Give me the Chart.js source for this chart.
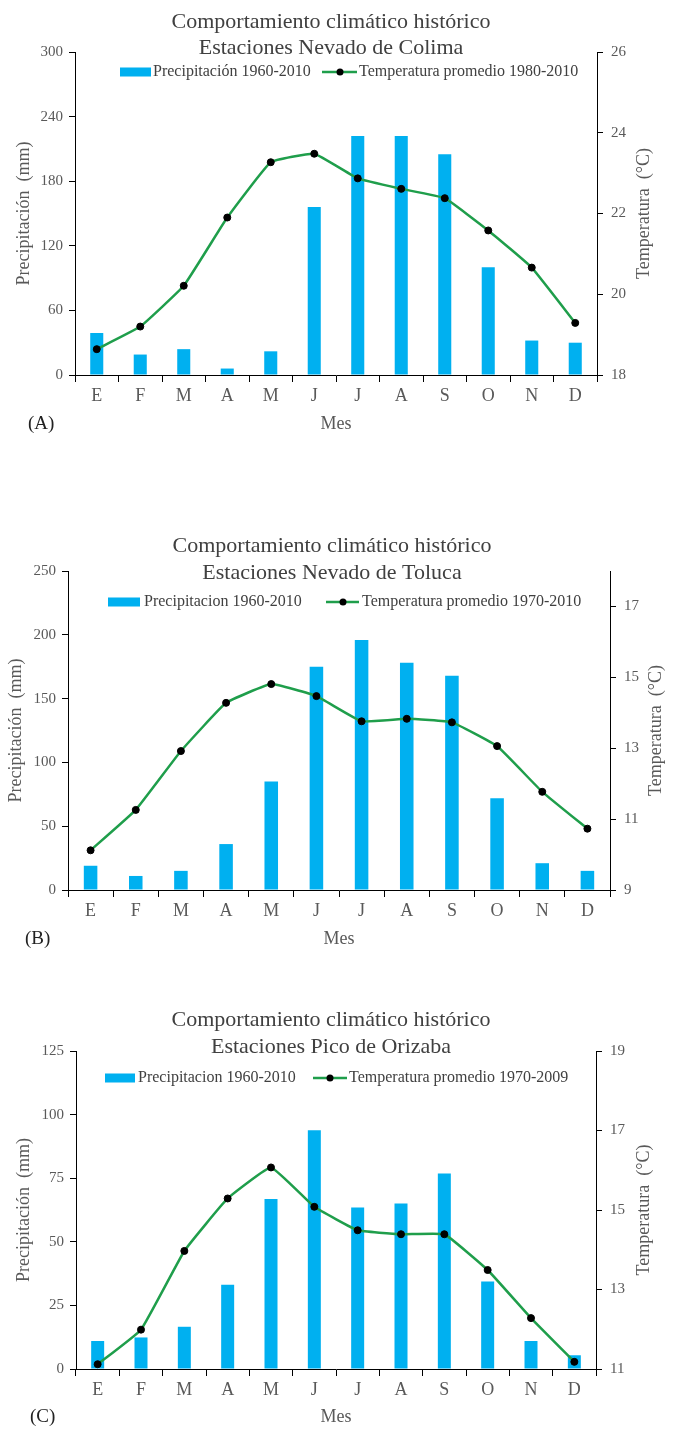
<!DOCTYPE html>
<html lang="es">
<head>
<meta charset="utf-8">
<title>Comportamiento climático histórico</title>
<script src="https://cdn.jsdelivr.net/npm/chart.js@4.4.1/dist/chart.umd.min.js"></script>
<style>
  body{margin:0;background:#fff;width:674px;height:1433px;position:relative;overflow:hidden;}
  canvas{position:absolute;left:0;}
</style>
</head>
<body>
<canvas id="chartA" width="674" height="460" style="top:0px"></canvas>
<canvas id="chartB" width="674" height="500" style="top:460px"></canvas>
<canvas id="chartC" width="674" height="473" style="top:960px"></canvas>
<script>
// ---------------- DATA ----------------
const meses = ['E','F','M','A','M','J','J','A','S','O','N','D'];

// (A) Nevado de Colima
const precipColima = [39,19,24,6,22,156,222,222,205,100,32,30];
const tempColima   = [18.64,19.20,20.21,21.90,23.27,23.48,22.87,22.61,22.38,21.58,20.66,19.29];
const precipTicksColima = [0,60,120,180,240,300];
const tempTicksColima   = [18,20,22,24,26];

// (B) Nevado de Toluca
const precipToluca = [19,11,15,36,85,175,196,178,168,72,21,15];
const tempToluca   = [10.12,11.26,12.92,14.28,14.81,14.47,13.76,13.83,13.73,13.06,11.77,10.73];
const precipTicksToluca = [0,50,100,150,200,250];
const tempTicksToluca   = [9,11,13,15,17];
const tempMaxToluca = 18;

// (C) Pico de Orizaba
const precipOrizaba = [11,12.4,16.6,33.1,66.8,93.8,63.5,65.1,76.8,34.4,11,5.4];
const tempOrizaba   = [11.12,11.99,13.97,15.29,16.07,15.08,14.49,14.39,14.39,13.49,12.28,11.18];
const precipTicksOrizaba = [0,25,50,75,100,125];
const tempTicksOrizaba   = [11,13,15,17,19];

// ---------------- STYLE ----------------
const FONT = "'Liberation Serif','Times New Roman',serif";
const BLUE = '#00b0f0';
const GREEN = '#1f9e4b';
const GREY = '#595959';
const DARK = '#404040';

// titles, legend, axis titles and panel letter
const decoPlugin = {
  id:'deco',
  afterDraw(chart, args, o){
    const {ctx, chartArea:ca} = chart;
    const bar = chart.data.datasets[1], line = chart.data.datasets[0];
    const midY = (ca.top+ca.bottom)/2;
    ctx.save();
    ctx.textBaseline='middle';

    ctx.fillStyle=DARK; ctx.textAlign='center';
    ctx.font='22px '+FONT;
    ctx.fillText('Comportamiento climático histórico', o.titleX, o.titleY[0]);
    ctx.fillText(o.subtitle, o.titleX, o.titleY[1]);

    // legend
    ctx.font='16px '+FONT; ctx.textAlign='left';
    ctx.fillStyle=BLUE;
    ctx.fillRect(o.box[0], o.legY-4.5, o.box[1]-o.box[0], 9);
    ctx.fillStyle=DARK;
    ctx.fillText(bar.label, o.text1X, o.legY);
    ctx.strokeStyle=GREEN; ctx.lineWidth=2.5;
    ctx.beginPath(); ctx.moveTo(o.seg[0], o.legY); ctx.lineTo(o.seg[1], o.legY); ctx.stroke();
    ctx.fillStyle='#000';
    ctx.beginPath(); ctx.arc(o.seg[2], o.legY, 3.5, 0, 2*Math.PI); ctx.fill();
    ctx.fillStyle=DARK;
    ctx.fillText(line.label, o.text2X, o.legY);

    // axis titles (both read bottom to top)
    ctx.fillStyle=GREY; ctx.textAlign='center'; ctx.font='18px '+FONT;
    [[o.leftTitleX,'Precipitación  (mm)'],[o.rightTitleX,'Temperatura  (°C)']].forEach(([x,t])=>{
      ctx.save(); ctx.translate(x, midY); ctx.rotate(-Math.PI/2);
      ctx.fillText(t, 0, 0); ctx.restore();
    });

    ctx.font='18px '+FONT;
    ctx.fillText('Mes', (ca.left+ca.right)/2, o.mesY);

    ctx.fillStyle='#222'; ctx.textAlign='left'; ctx.font='19px '+FONT;
    ctx.fillText(o.letter, o.letterX, o.mesY);
    ctx.restore();
  }
};

function makeChart(id, p){
  const H = document.getElementById(id).height;
  const fixTicks = list => s => { s.ticks = list.map(v=>({value:v})); };
  return new Chart(document.getElementById(id),{
    type:'bar',
    data:{
      labels:meses,
      datasets:[
        {type:'line', label:p.tempLabel, data:p.temp, yAxisID:'y1', order:0,
         borderColor:GREEN, borderWidth:2.5, tension:0.1,
         pointRadius:3.5, pointBackgroundColor:'#000', pointBorderColor:'#000', pointBorderWidth:1},
        {type:'bar', label:p.precipLabel, data:p.precip, yAxisID:'y', order:1,
         backgroundColor:BLUE, categoryPercentage:1, barPercentage:0.3}
      ]
    },
    options:{
      responsive:false, animation:false,
      layout:{padding:{top:p.top, left:0, right:0, bottom:0}},
      plugins:{legend:{display:false}, tooltip:{enabled:false}, title:{display:false}, deco:p.deco},
      scales:{
        x:{offset:true,
           grid:{offset:true, drawOnChartArea:false, tickLength:7, color:'#000'},
           border:{color:'#000'},
           ticks:{color:GREY, font:{family:FONT, size:18}, padding:3, maxRotation:0, autoSkip:false},
           afterFit:s=>{ s.height = H - p.bottom; }},
        y:{position:'left', min:0, max:p.precipTicks[p.precipTicks.length-1],
           grid:{drawOnChartArea:false, tickLength:6, color:'#000'},
           border:{color:'#000'},
           ticks:{color:GREY, font:{family:FONT, size:15}, padding:6},
           afterBuildTicks:fixTicks(p.precipTicks),
           afterFit:s=>{ s.width = p.left; }},
        y1:{position:'right', min:p.tempTicks[0], max:p.tempMax,
           grid:{drawOnChartArea:false, tickLength:6, color:'#000'},
           border:{color:'#000'},
           ticks:{color:GREY, font:{family:FONT, size:15}, padding:8},
           afterBuildTicks:fixTicks(p.tempTicks),
           afterFit:s=>{ s.width = 674 - p.right; }}
      }
    },
    plugins:[decoPlugin]
  });
}

// ---------------- CHARTS ----------------
makeChart('chartA',{
  precip:precipColima, temp:tempColima,
  precipTicks:precipTicksColima, tempTicks:tempTicksColima, tempMax:26,
  precipLabel:'Precipitación 1960-2010', tempLabel:'Temperatura promedio 1980-2010',
  top:52, bottom:375, left:75, right:597,
  deco:{subtitle:'Estaciones Nevado de Colima', titleX:331, titleY:[22,48],
        legY:72, box:[120,151], text1X:153, seg:[322,357,340], text2X:359,
        leftTitleX:24, rightTitleX:644, mesY:424, letter:'(A)', letterX:28}
});

makeChart('chartB',{
  precip:precipToluca, temp:tempToluca,
  precipTicks:precipTicksToluca, tempTicks:tempTicksToluca, tempMax:tempMaxToluca,
  precipLabel:'Precipitacion 1960-2010', tempLabel:'Temperatura promedio 1970-2010',
  top:111, bottom:430, left:68, right:610,
  deco:{subtitle:'Estaciones Nevado de Toluca', titleX:332, titleY:[86,113],
        legY:142, box:[108,140], text1X:144, seg:[326,359,343], text2X:362,
        leftTitleX:16, rightTitleX:656, mesY:479, letter:'(B)', letterX:25}
});

makeChart('chartC',{
  precip:precipOrizaba, temp:tempOrizaba,
  precipTicks:precipTicksOrizaba, tempTicks:tempTicksOrizaba, tempMax:19,
  precipLabel:'Precipitacion 1960-2010', tempLabel:'Temperatura promedio 1970-2009',
  top:91, bottom:409, left:76, right:596,
  deco:{subtitle:'Estaciones Pico de Orizaba', titleX:331, titleY:[60,87],
        legY:118, box:[105,135], text1X:138, seg:[313,347,330], text2X:349,
        leftTitleX:24, rightTitleX:644, mesY:457, letter:'(C)', letterX:30}
});
</script>
</body>
</html>
